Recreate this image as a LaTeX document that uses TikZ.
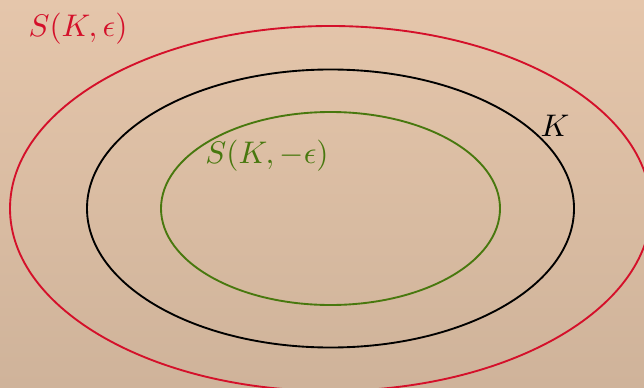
\documentclass[tikz,border=0pt]{standalone}
\usepackage{tikz}
\usepackage{amsmath, amsfonts}

\definecolor{bgtop}{RGB}{229,198,171}
\definecolor{bgbot}{RGB}{207,179,154}
\definecolor{setred}{RGB}{212,16,42}
\definecolor{setgreen}{RGB}{72,120,14}

\begin{document}
\begin{tikzpicture}[x=0.32pt, y=0.32pt, curve/.style = {semithick}, lab/.style = {inner sep=0pt}]
            \useasboundingbox (0,0) rectangle (644,387);
            \clip (0,0) rectangle (644,387);
            \shade[top color=bgtop, bottom color=bgbot] (0,0) rectangle (644,387);

            \coordinate (O) at (330.5,178.5);

            \draw[curve, setred] (O) ellipse [x radius=320.5, y radius=182.5];
            \draw[curve, black] (O) ellipse [x radius=243.5, y radius=139];
            \draw[curve, setgreen] (O) ellipse [x radius=169.5, y radius=96.5];

            \node[lab, setred] (Seps) at (78,358) {$S(K,\epsilon)$};
            \node[lab, black] (K) at (555,261) {$K$};
            \node[lab, setgreen] (Smeps) at (267,231) {$S(K,-\epsilon)$};
        \end{tikzpicture}
\end{document}
